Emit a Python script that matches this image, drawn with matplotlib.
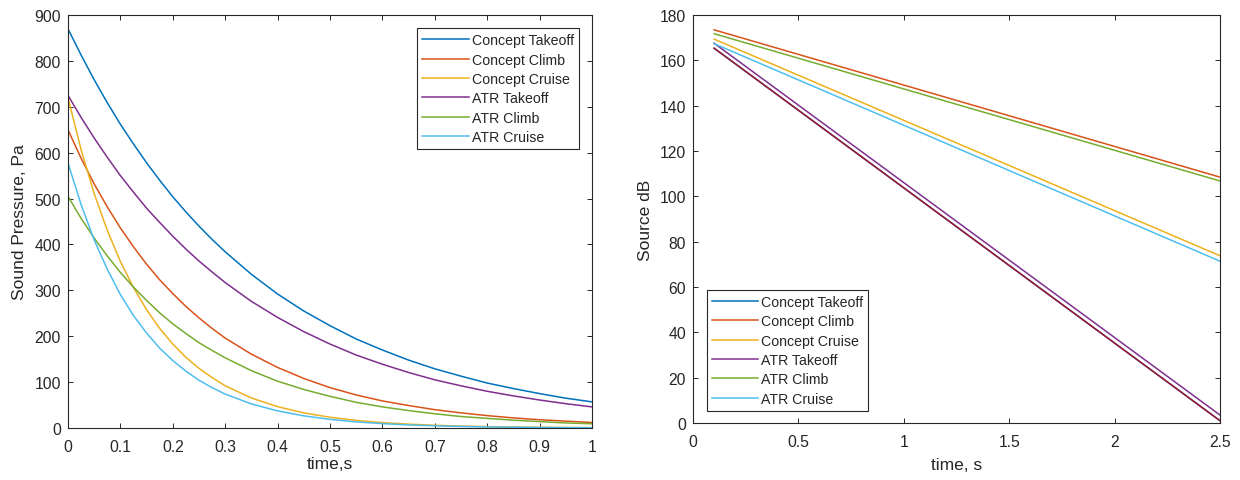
import matplotlib

matplotlib.use("Agg")
import matplotlib.pyplot as plt
from matplotlib.ticker import FuncFormatter

plt.rcParams["font.family"] = ["Liberation Sans", "DejaVu Sans"]

SERIES = ["Concept Takeoff", "Concept Climb", "Concept Cruise", "ATR Takeoff", "ATR Climb", "ATR Cruise"]
COLORS = ["#0072BD", "#D95319", "#EDB120", "#7E2F8E", "#77AC30", "#4DBEEE"]
OVERLAP_COLOR = "#A2142F"

# left panel: sound pressure (Pa), read every 0.025 s up to 0.3 s, then every 0.05 s
time_p = [0.000, 0.025, 0.050, 0.075, 0.100, 0.125, 0.150, 0.175, 0.200, 0.225, 0.250, 0.275,
          0.30, 0.35, 0.40, 0.45, 0.50, 0.55, 0.60, 0.65, 0.70, 0.75, 0.80, 0.85, 0.90, 0.95, 1.00]
concept_takeoff_p = [870, 813, 759, 709, 662, 619, 578, 540, 504, 471, 440, 411,
                     384, 335, 292, 255, 223, 194, 170, 148, 129, 113, 98, 86, 75, 65, 57]
concept_climb_p = [650, 588, 532, 482, 436, 395, 357, 323, 293, 265, 240, 217,
                   196, 161, 132, 108, 88, 72, 59, 49, 40, 33, 27, 22, 18, 15, 12]
concept_cruise_p = [720, 607, 511, 431, 363, 306, 258, 217, 183, 154, 130, 110,
                    92, 65.5, 46.5, 33, 23.4, 16.6, 11.8, 8.4, 6.0, 4.2, 3.0, 2.1, 1.5, 1.1, 0.8]
atr_takeoff_p = [725, 677, 632, 590, 550, 514, 479, 448, 418, 390, 364, 340,
                 317, 276, 241, 210, 183, 159, 139, 121, 105, 92, 80, 70, 61, 53, 46]
atr_climb_p = [505, 457, 414, 375, 339, 307, 278, 251, 227, 206, 186, 169,
               153, 125, 102, 84, 69, 56, 46, 38, 31, 25, 21, 17, 14, 11, 9.3]
atr_cruise_p = [578, 487, 410, 346, 291, 245, 207, 174, 147, 124, 104, 88,
                74, 52.5, 37.3, 26.5, 18.8, 13.3, 9.5, 6.7, 4.8, 3.4, 2.4, 1.7, 1.2, 0.85, 0.6]

# right panel: source level (dB), straight lines between end points
time_db = [0.1, 2.5]
concept_takeoff_db = [165.4, 1.0]
concept_climb_db = [173.5, 108.5]
concept_cruise_db = [169.4, 73.8]
atr_takeoff_db = [167.6, 3.5]
atr_climb_db = [171.8, 106.8]
atr_cruise_db = [167.4, 71.4]

pressure = [concept_takeoff_p, concept_climb_p, concept_cruise_p, atr_takeoff_p, atr_climb_p, atr_cruise_p]
source_db = [concept_takeoff_db, concept_climb_db, concept_cruise_db, atr_takeoff_db, atr_climb_db, atr_cruise_db]

TEXT = "#262626"

fig = plt.figure(figsize=(12.4, 4.81), dpi=100)
ax1 = fig.add_axes([0.0548, 0.1081, 0.4226, 0.8586])
ax2 = fig.add_axes([0.5589, 0.1185, 0.4250, 0.8480])


def style(ax):
    for s in ax.spines.values():
        s.set_color(TEXT)
        s.set_linewidth(0.8)
    ax.tick_params(direction="in", length=3.5, width=0.7, colors=TEXT, labelsize=11.3,
                   top=True, right=True)
    ax.tick_params(axis="x", pad=8)
    ax.tick_params(axis="y", pad=5)
    ax.xaxis.set_major_formatter(FuncFormatter(lambda v, _: f"{v:g}"))


def legend(ax, **kw):
    leg = ax.legend(fontsize=10.2, handlelength=3.3, handletextpad=0.2, labelspacing=0.38,
                    borderpad=0.35, borderaxespad=0, fancybox=False, framealpha=1,
                    edgecolor=TEXT, **kw)
    leg.get_frame().set_linewidth(0.8)
    for t in leg.get_texts():
        t.set_color(TEXT)


for name, color, ys in zip(SERIES, COLORS, pressure):
    ax1.plot(time_p, ys, color=color, lw=1.1, label=name)
ax1.set_xlim(0, 1)
ax1.set_ylim(0, 900)
ax1.set_xticks([0, 0.1, 0.2, 0.3, 0.4, 0.5, 0.6, 0.7, 0.8, 0.9, 1])
ax1.set_yticks(range(0, 901, 100))
ax1.set_xlabel("time,s", fontsize=12.5, color=TEXT, labelpad=1)
ax1.set_ylabel("Sound Pressure, Pa", fontsize=12.5, color=TEXT, labelpad=5)
style(ax1)
legend(ax1, loc="upper right", bbox_to_anchor=(0.975, 0.968))

for name, color, ys in zip(SERIES, COLORS, source_db):
    ax2.plot(time_db, ys, color=color, lw=1.1, label=name)
# the takeoff line shows in dark red on the reference, drawn over the blue one
ax2.plot(time_db, concept_takeoff_db, color=OVERLAP_COLOR, lw=1.1)
ax2.set_xlim(0, 2.5)
ax2.set_ylim(0, 180)
ax2.set_xticks([0, 0.5, 1, 1.5, 2, 2.5])
ax2.set_yticks(range(0, 181, 20))
ax2.set_xlabel("time, s", fontsize=12.5, color=TEXT, labelpad=6)
ax2.set_ylabel("Source dB", fontsize=12.5, color=TEXT, labelpad=5)
style(ax2)
legend(ax2, loc="lower left", bbox_to_anchor=(0.026, 0.03))

fig.savefig("out.png", dpi=100)
plt.close(fig)
